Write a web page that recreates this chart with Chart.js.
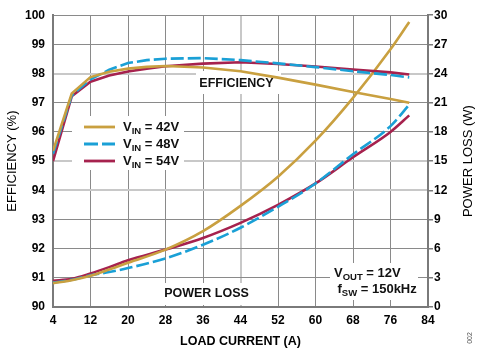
<!DOCTYPE html>
<html>
<head>
<meta charset="utf-8">
<script src="https://cdn.jsdelivr.net/npm/chart.js@4.4.0/dist/chart.umd.min.js"></script>
<style>
  html, body { margin: 0; padding: 0; background: #fff; }
  #wrap { width: 480px; height: 350px; position: relative; }
</style>
</head>
<body>
<div id="wrap"><canvas id="c" width="480" height="350"></canvas></div>
<script>
// ---- data ----
const effCurrent = [4, 8, 12, 16, 20, 24, 28, 36, 44, 52, 60, 68, 76, 80];
const eff42 = [95.35, 97.32, 97.88, 98.06, 98.17, 98.23, 98.26, 98.21, 98.08, 97.86, 97.62, 97.37, 97.13, 97.0];
const eff48 = [95.25, 97.25, 97.8, 98.13, 98.36, 98.46, 98.51, 98.53, 98.46, 98.35, 98.22, 98.08, 97.95, 97.87];
const eff54 = [95.0, 97.22, 97.72, 97.93, 98.07, 98.17, 98.25, 98.34, 98.39, 98.33, 98.24, 98.14, 98.04, 97.97];
const lossCurrent = [4, 8, 12, 16, 20, 28, 36, 44, 52, 60, 68, 76, 80];
const loss42 = [2.45, 2.75, 3.2, 3.85, 4.55, 5.9, 7.8, 10.4, 13.4, 17.1, 21.5, 26.5, 29.3];
const loss48 = [2.5, 2.8, 3.25, 3.6, 4.0, 5.0, 6.4, 8.15, 10.3, 12.7, 15.7, 18.6, 20.8];
const loss54 = [2.7, 2.9, 3.45, 4.1, 4.8, 5.9, 7.1, 8.65, 10.5, 12.7, 15.4, 18.0, 19.7];
const seriesLabels = ['42V', '48V', '54V'];
const xTicks = [4, 12, 20, 28, 36, 44, 52, 60, 68, 76, 84];
const effTicks = [90, 91, 92, 93, 94, 95, 96, 97, 98, 99, 100];
const lossTicks = [0, 3, 6, 9, 12, 15, 18, 21, 24, 27, 30];

// ---- styles ----
const FONT = '"Liberation Sans", Arial, sans-serif';
const GOLD = '#C9A040';
const BLUE = '#1AA0D6';
const RED = '#A6224E';
const DARK_GRID = '#8a8a8a';
const LIGHT_GRID = '#c8c8c8';
const AXIS = '#7a7a7a';
const lightEff = [98, 95, 94];
const lightX = [44];

function pts(xs, ys) { return xs.map((x, i) => ({ x: x, y: ys[i] })); }

function lineDs(label, xs, data, color, axis, dashed, smooth) {
  return {
    label: label, data: pts(xs, data), borderColor: color, backgroundColor: color,
    borderWidth: 2.6, pointRadius: 0, yAxisID: axis,
    cubicInterpolationMode: smooth ? 'monotone' : 'default', tension: 0,
    borderDash: dashed ? [13, 4] : [], fill: false
  };
}

const MAIN = 'bold 13px ' + FONT;
const SUB = 'bold 9.5px ' + FONT;

function drawRich(ctx, x, y, parts, align) {
  let total = 0;
  parts.forEach(p => { ctx.font = p.sub ? SUB : MAIN; p.w = ctx.measureText(p.t).width; total += p.w; });
  let cx = align === 'center' ? x - total / 2 : x;
  ctx.textBaseline = 'middle';
  ctx.textAlign = 'left';
  parts.forEach(p => {
    ctx.font = p.sub ? SUB : MAIN;
    ctx.fillText(p.t, cx, y + (p.sub ? 4 : 0));
    cx += p.w;
  });
}

const annotPlugin = {
  id: 'annot',
  beforeDatasetsDraw(chart) {
    const ctx = chart.ctx;
    ctx.save();
    ctx.fillStyle = '#fff';
    // white boxes behind labels
    ctx.fillRect(72, 116, 112, 54);
    ctx.fillRect(196, 71, 85, 23);
    ctx.fillRect(160, 283, 93, 22);
    ctx.fillRect(330, 263, 88, 37);
    ctx.fillStyle = '#111';
    ctx.font = 'bold 12.5px ' + FONT;
    ctx.textAlign = 'center';
    ctx.textBaseline = 'middle';
    ctx.fillText('EFFICIENCY', 236.5, 83.5);
    ctx.fillText('POWER LOSS', 206.5, 293.5);
    drawRich(ctx, 334, 273, [{ t: 'V' }, { t: 'OUT', sub: true }, { t: ' = 12V' }], 'left');
    drawRich(ctx, 337.5, 289.5, [{ t: 'f' }, { t: 'SW', sub: true }, { t: ' = 150kHz' }], 'left');
    // legend
    const colors = [GOLD, BLUE, RED];
    const ys = [127, 144, 161];
    seriesLabels.forEach((lab, i) => {
      ctx.strokeStyle = colors[i];
      ctx.lineWidth = 2.8;
      ctx.setLineDash(i === 1 ? [14, 4] : []);
      ctx.beginPath();
      ctx.moveTo(84, ys[i]);
      ctx.lineTo(115, ys[i]);
      ctx.stroke();
      ctx.setLineDash([]);
      ctx.fillStyle = '#111';
      drawRich(ctx, 123, ys[i], [{ t: 'V' }, { t: 'IN', sub: true }, { t: ' = ' + lab }], 'left');
    });
    ctx.restore();
  },
  afterDraw(chart) {
    const ctx = chart.ctx;
    const ca = chart.chartArea;
    ctx.save();
    // right axis title, reading bottom-to-top
    ctx.translate(468, (ca.top + ca.bottom) / 2);
    ctx.rotate(-Math.PI / 2);
    ctx.fillStyle = '#000';
    ctx.font = '13px ' + FONT;
    ctx.textAlign = 'center';
    ctx.textBaseline = 'middle';
    ctx.fillText('POWER LOSS (W)', 0, 0);
    ctx.restore();
    ctx.save();
    ctx.translate(470, 338);
    ctx.rotate(-Math.PI / 2);
    ctx.fillStyle = '#555';
    ctx.font = '7px ' + FONT;
    ctx.textAlign = 'center';
    ctx.textBaseline = 'middle';
    ctx.fillText('002', 0, 0);
    ctx.restore();
  }
};

new Chart(document.getElementById('c'), {
  type: 'line',
  data: {
    datasets: [
      lineDs('VIN = 42V', effCurrent, eff42, GOLD, 'y', false, false),
      lineDs('VIN = 48V', effCurrent, eff48, BLUE, 'y', true, false),
      lineDs('VIN = 54V', effCurrent, eff54, RED, 'y', false, false),
      lineDs('VIN = 42V loss', lossCurrent, loss42, GOLD, 'y1', false, true),
      lineDs('VIN = 48V loss', lossCurrent, loss48, BLUE, 'y1', true, true),
      lineDs('VIN = 54V loss', lossCurrent, loss54, RED, 'y1', false, true)
    ]
  },
  options: {
    responsive: false,
    animation: false,
    devicePixelRatio: 1,
    layout: { padding: { top: 7, left: 0, right: 0, bottom: 0 } },
    plugins: { legend: { display: false }, tooltip: { enabled: false } },
    scales: {
      x: {
        type: 'linear', min: 4, max: 84,
        afterBuildTicks(s) { s.ticks = xTicks.map(v => ({ value: v })); },
        afterFit(s) { s.height = 43; },
        ticks: { color: '#000', font: { family: FONT, size: 12, weight: 'bold' }, padding: 6, maxRotation: 0, autoSkip: false },
        grid: {
          drawTicks: false,
          color: c => lightX.includes(c.tick && c.tick.value) ? LIGHT_GRID : DARK_GRID,
          lineWidth: c => lightX.includes(c.tick && c.tick.value) ? 2 : 1
        },
        border: { display: true, color: AXIS, width: 2 },
        title: { display: true, text: 'LOAD CURRENT (A)', color: '#000', font: { family: FONT, size: 12.5, weight: 'bold' }, padding: { top: 0, bottom: 1 } }
      },
      y: {
        position: 'left', min: 90, max: 100,
        afterBuildTicks(s) { s.ticks = effTicks.map(v => ({ value: v })); },
        afterFit(s) { s.width = 53; },
        ticks: { color: '#000', font: { family: FONT, size: 12, weight: 'bold' }, padding: 8 },
        grid: {
          drawTicks: false,
          color: c => lightEff.includes(c.tick && c.tick.value) ? LIGHT_GRID : DARK_GRID,
          lineWidth: c => lightEff.includes(c.tick && c.tick.value) ? 2 : 1
        },
        border: { display: true, color: AXIS, width: 2 },
        title: { display: true, text: 'EFFICIENCY (%)', color: '#000', font: { family: FONT, size: 13 }, padding: { top: 5, bottom: 4 } }
      },
      y1: {
        position: 'right', min: 0, max: 30,
        afterBuildTicks(s) { s.ticks = lossTicks.map(v => ({ value: v })); },
        afterFit(s) { s.width = 52; },
        ticks: { color: '#000', font: { family: FONT, size: 12, weight: 'bold' }, padding: 1 },
        grid: { drawOnChartArea: false, drawTicks: true, tickLength: 5, color: AXIS, lineWidth: 1.5 },
        border: { display: true, color: AXIS, width: 2 },
        title: { display: false, text: 'POWER LOSS (W)' }
      }
    }
  },
  plugins: [annotPlugin]
});
</script>
</body>
</html>
